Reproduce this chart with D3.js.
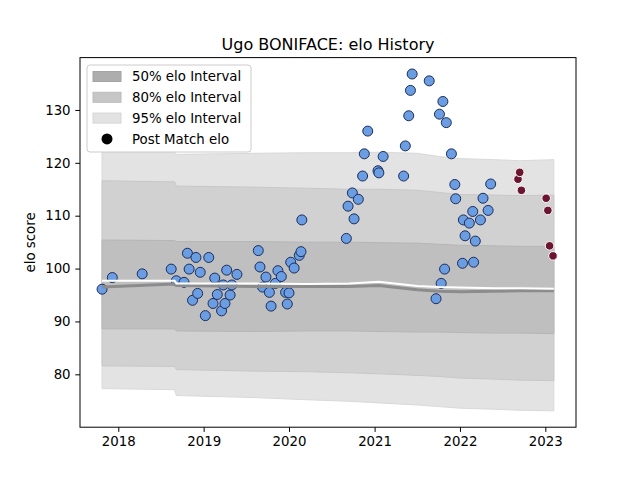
<!DOCTYPE html>
<html>
<head>
  <meta charset="utf-8">
  <script src="https://cdn.jsdelivr.net/npm/d3@7"></script>
  <style>
    body { margin:0; background:#fff; }
    text { font-family: "DejaVu Sans", sans-serif; }
  </style>
</head>
<body>
<svg width="640" height="480"></svg>
<script>
// match dates as decimal years, and elo after each match
var matchYears = [2017.81, 2017.93, 2018.28, 2018.62, 2018.68, 2018.77, 2018.81, 2018.83, 2018.87, 2018.91, 2018.93, 2018.96,
  2019.02, 2019.06, 2019.13, 2019.11, 2019.16, 2019.21, 2019.23, 2019.25, 2019.27, 2019.31, 2019.33, 2019.39,
  2019.64, 2019.66, 2019.69, 2019.73, 2019.77, 2019.79, 2019.84, 2019.87, 2019.91, 2019.96, 2019.98, 2020.00,
  2020.02, 2020.06, 2020.12, 2020.14, 2020.15,
  2020.67, 2020.69, 2020.74, 2020.76, 2020.81, 2020.86, 2020.88, 2020.92, 2021.04, 2021.05, 2021.10,
  2021.34, 2021.36, 2021.40, 2021.42, 2021.44, 2021.64, 2021.76, 2021.80, 2021.84, 2021.90,
  2021.72, 2021.78, 2021.82, 2021.94, 2021.95, 2022.03, 2022.04, 2022.06, 2022.11, 2022.15,
  2022.16, 2022.18, 2022.24, 2022.27, 2022.33, 2022.36];
var matchElo = [96.1, 98.3, 99.0, 99.9, 97.7, 97.4, 102.9, 99.9, 94.0, 102.1, 95.3, 99.3,
  91.1, 102.1, 98.2, 93.4, 95.1, 92.0, 96.9, 93.4, 99.7, 95.0, 96.9, 98.9,
  103.4, 100.3, 96.5, 98.4, 95.5, 92.9, 97.2, 99.6, 98.5, 95.5, 93.3, 95.4,
  101.2, 100.1, 102.5, 103.2, 109.2,
  105.7, 111.8, 114.3, 109.4, 113.1, 117.5, 121.7, 126.0, 118.5, 118.1, 121.2,
  117.5, 123.2, 128.9, 133.7, 136.8, 135.5, 129.2, 131.6, 127.6, 121.7,
  94.3, 97.2, 99.9, 115.9, 113.2, 101.0, 109.2, 106.2, 108.6, 110.8,
  101.2, 105.2, 109.2, 113.3, 111.0, 116.0];

// latest matches (drawn in dark red)
var recentYears = [2022.68, 2022.70, 2022.72, 2023.01, 2023.03, 2023.05, 2023.09];
var recentElo = [116.9, 118.2, 114.8, 113.3, 111.0, 104.3, 102.4];

// interval bands
var bandYears = [2017.81, 2018.66, 2018.68, 2019.60, 2020.20, 2020.70, 2021.05, 2021.50, 2021.75, 2022.00, 2022.40, 2022.70, 2023.10];
var hi95 = [122.0, 122.0, 121.6, 121.8, 121.9, 121.9, 122.0, 121.8, 121.2, 120.8, 120.6, 120.4, 120.6];
var hi80 = [116.6, 116.4, 115.6, 115.4, 115.2, 115.0, 115.0, 114.8, 114.4, 114.0, 113.9, 113.8, 113.9];
var hi50 = [105.4, 105.3, 105.1, 105.1, 105.0, 105.0, 104.9, 104.8, 104.6, 104.4, 104.3, 104.2, 104.2];
var lo50 = [88.6, 88.6, 88.2, 88.1, 88.2, 88.2, 88.1, 88.0, 88.0, 87.9, 87.8, 87.8, 87.7];
var lo80 = [81.6, 81.5, 80.9, 80.6, 80.5, 80.3, 80.1, 79.8, 79.6, 79.3, 79.1, 78.9, 78.8];
var lo95 = [77.3, 77.1, 76.0, 75.6, 75.2, 74.9, 74.6, 74.2, 73.9, 73.6, 73.4, 73.2, 73.1];
var medianElo = [96.5, 97.1, 96.8, 96.6, 96.6, 96.6, 96.8, 96.0, 95.7, 95.6, 95.7, 95.8, 95.8];
var meanElo = [97.7, 97.7, 97.2, 97.2, 97.1, 97.2, 97.5, 96.7, 96.5, 96.4, 96.3, 96.3, 96.2];

var xTicks = [2018, 2019, 2020, 2021, 2022, 2023];
var yTicks = [80, 90, 100, 110, 120, 130];

function toDate(y) {
  var yr = Math.floor(y);
  var a = new Date(yr, 0, 1), b = new Date(yr + 1, 0, 1);
  return new Date(+a + (y - yr) * (b - a));
}

var plotLeft = 80, plotRight = 576, plotTop = 57.6, plotBottom = 427.2;
var svg = d3.select("svg");

var x = d3.scaleTime()
    .domain([toDate(2017.5515), toDate(2023.3595)])
    .range([plotLeft, plotRight]);
var y = d3.scaleLinear()
    .domain([70, 139.9])
    .range([plotBottom, plotTop]);

function band(lo, hi) {
  return d3.area()
    .x(function(d, i) { return x(toDate(bandYears[i])); })
    .y0(function(d, i) { return y(lo[i]); })
    .y1(function(d, i) { return y(hi[i]); })(bandYears);
}

var bands = [
  { lo: lo95, hi: hi95, fill: "#e3e3e3", edge: "#d9d9d9", label: "95% elo Interval", key: "#e2e2e2" },
  { lo: lo80, hi: hi80, fill: "#d1d1d1", edge: "#c8c8c8", label: "80% elo Interval", key: "#c6c6c6" },
  { lo: lo50, hi: hi50, fill: "#bfbfbf", edge: "#b6b6b6", label: "50% elo Interval", key: "#adadad" }
];

svg.append("g").selectAll("path")
  .data(bands)
  .enter().append("path")
    .attr("d", function(b) { return band(b.lo, b.hi); })
    .attr("fill", function(b) { return b.fill; })
    .attr("stroke", function(b) { return b.edge; })
    .attr("stroke-width", 1);

// post match elo
svg.append("g").selectAll("circle")
  .data(matchYears)
  .enter().append("circle")
    .attr("cx", function(d) { return x(toDate(d)); })
    .attr("cy", function(d, i) { return y(matchElo[i]); })
    .attr("r", 5)
    .attr("fill", "#6a9de2")
    .attr("stroke", "#1c2d5a")
    .attr("stroke-width", 1);

svg.append("g").selectAll("circle")
  .data(recentYears)
  .enter().append("circle")
    .attr("cx", function(d) { return x(toDate(d)); })
    .attr("cy", function(d, i) { return y(recentElo[i]); })
    .attr("r", 4.3)
    .attr("fill", "#6b1530")
    .attr("stroke", "#fff")
    .attr("stroke-width", 1);

var line = function(vals) {
  return d3.line()
    .x(function(d, i) { return x(toDate(bandYears[i])); })
    .y(function(d, i) { return y(vals[i]); })(bandYears);
};
svg.append("path").attr("d", line(medianElo))
  .attr("fill", "none").attr("stroke", "#8c8c8c").attr("stroke-width", 3);
svg.append("path").attr("d", line(meanElo))
  .attr("fill", "none").attr("stroke", "#fff").attr("stroke-width", 2);

// axes
var xAxis = svg.append("g")
  .attr("transform", "translate(0," + plotBottom + ")")
  .call(d3.axisBottom(x)
    .tickValues(xTicks.map(function(t) { return new Date(t, 0, 1); }))
    .tickFormat(d3.timeFormat("%Y"))
    .tickSize(4.7).tickPadding(4.7).tickSizeOuter(0));
var yAxis = svg.append("g")
  .attr("transform", "translate(" + plotLeft + ",0)")
  .call(d3.axisLeft(y).tickValues(yTicks).tickSize(4.7).tickPadding(4.7).tickSizeOuter(0));
[xAxis, yAxis].forEach(function(g) {
  g.select(".domain").remove();
  g.selectAll("text").attr("font-size", "13.33px").attr("fill", "#000")
    .attr("font-family", "DejaVu Sans");
  g.selectAll("line").attr("stroke", "#000").attr("stroke-width", 1);
});

svg.append("rect")
  .attr("x", plotLeft).attr("y", plotTop)
  .attr("width", plotRight - plotLeft).attr("height", plotBottom - plotTop)
  .attr("fill", "none").attr("stroke", "#000").attr("stroke-width", 1);

svg.append("text")
  .attr("x", (plotLeft + plotRight) / 2).attr("y", 49.5)
  .attr("text-anchor", "middle").attr("font-size", "16px")
  .text("Ugo BONIFACE: elo History");

svg.append("text")
  .attr("transform", "translate(35," + ((plotTop + plotBottom) / 2) + ") rotate(-90)")
  .attr("text-anchor", "middle").attr("font-size", "13.33px")
  .text("elo score");

// legend
var legend = svg.append("g");
legend.append("rect")
  .attr("x", 87).attr("y", 65).attr("width", 164).attr("height", 87)
  .attr("rx", 3).attr("fill", "#fff").attr("fill-opacity", 0.8)
  .attr("stroke", "#cccccc");
var rows = bands.slice().reverse().map(function(b) { return { label: b.label, color: b.key }; });
rows.push({ label: "Post Match elo", dot: true });
rows.forEach(function(r, i) {
  var cy = 76.5 + i * 20.8;
  if (r.dot) {
    legend.append("circle").attr("cx", 107).attr("cy", cy).attr("r", 5.5).attr("fill", "#000");
  } else {
    legend.append("rect").attr("x", 93).attr("y", cy - 5).attr("width", 28).attr("height", 10)
      .attr("fill", r.color).attr("stroke", d3.color(r.color).darker(0.15));
  }
  legend.append("text").attr("x", 132).attr("y", cy).attr("dy", "0.35em")
    .attr("font-size", "13.33px").text(r.label);
});
</script>
</body>
</html>
